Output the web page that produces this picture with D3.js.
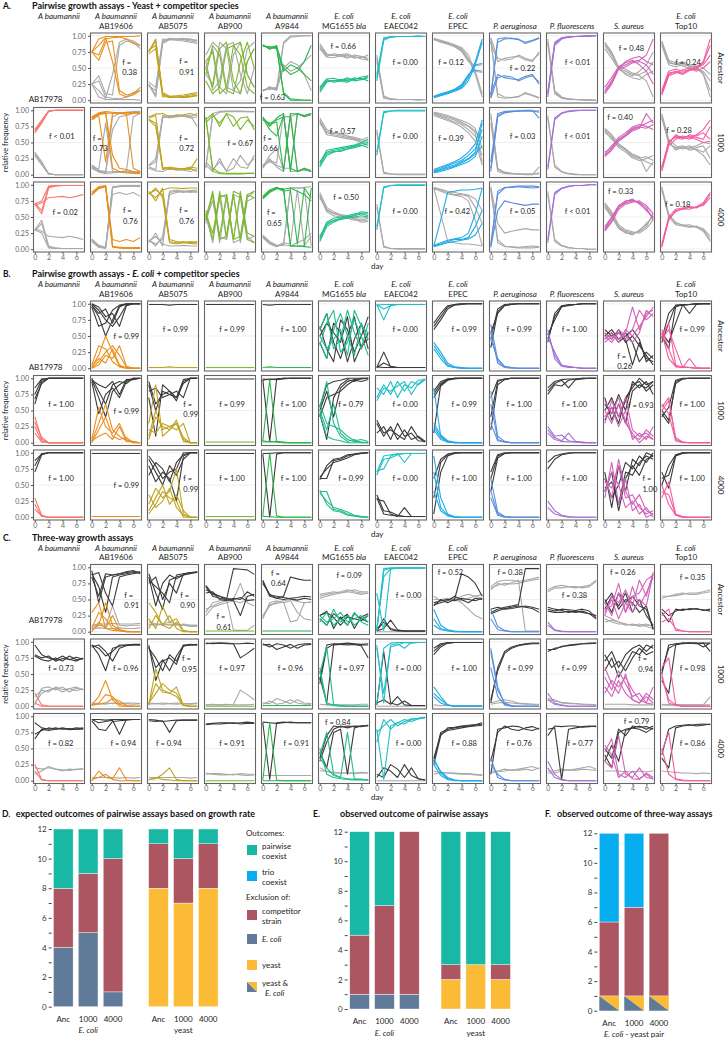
<!DOCTYPE html>
<html>
<head>
<meta charset="utf-8">
<script src="https://cdn.jsdelivr.net/npm/d3@7"></script>
<style>
  body { margin: 0; background: #fff; }
  text { font-family: Lato, "Open Sans", sans-serif; }
</style>
</head>
<body>
<div id="fig"></div>
<script>
// column headers
const species = ["A baumannii", "A baumannii", "A baumannii", "A baumannii", "A baumannii", "E. coli", "E. coli", "E. coli",
  "P. aeruginosa", "P. fluorescens", "S. aureus", "E. coli"];
const strains = ["AB17978", "AB19606", "AB5075", "AB900", "A9844", "MG1655", "EAEC042", "EPEC", "", "", "", "Top10"];
const rowLabels = ["Ancestor", "1000", "4000"];
const days = [0, 1, 2, 3, 4, 5, 6, 7];
const yTicks = [0, 0.25, 0.5, 0.75, 1];
const xTicks = [0, 2, 4, 6];

const compColors = ["#f8766d", "#e98f1c", "#bfa31f", "#7dba2c", "#2db64d", "#20bd8e", "#20bfc5", "#1faae6",
  "#5b8edc", "#a470d6", "#d262b9", "#f45b9f"];

// A: yeast + competitor, competitor frequency (%) per replicate, yeast is the rest
const yeastPair = [
  [null,
    [[75,95,99,99,99,99,99,100],[75,62,90,92,15,8,10,20],[75,85,97,60,10,5,8,15],[75,70,95,97,98,95,88,85]],
    [[75,92,10,5,5,6,8,10],[78,85,8,4,5,5,6,8],[72,80,5,6,7,8,10,12],[76,95,12,6,5,4,5,7]],
    [[50,20,80,90,30,10,60,80],[40,85,70,15,10,60,90,50],[60,75,10,20,85,90,40,20],[30,10,20,80,85,70,20,10]],
    [[85,82,84,50,40,45,60,85],[85,80,82,10,0,0,0,0],[84,83,80,45,55,50,40,30],[86,79,85,12,2,1,0,0]],
    [[15,30,30,32,30,35,32,35],[18,32,28,30,33,32,36,38],[12,28,31,29,28,33,34,30],[20,33,34,31,35,30,32,37]],
    [[35,95,98,99,99,99,99,99],[40,97,99,99,99,99,99,99],[30,93,98,99,99,99,100,99]],
    [[5,8,12,15,20,35,60,95],[4,7,10,14,18,30,55,90],[6,10,13,17,24,40,47,45],[5,9,11,16,22,38,55,57]],
    [[5,95,97,96,95,88,92,96],[8,90,95,96,94,90,93,97],[3,35,38,36,30,35,38,28],[10,40,35,33,32,37,40,25]],
    [[10,88,96,98,99,99,99,100],[5,85,95,98,99,99,100,100],[12,90,97,99,99,100,100,100]],
    [[15,30,50,55,60,62,70,95],[10,25,48,52,58,60,55,40],[20,35,52,58,62,55,45,25],[12,28,50,60,65,68,60,55]],
    [[10,40,45,42,48,50,60,95],[15,45,48,45,47,52,55,70],[8,38,42,47,50,45,50,60],[12,42,44,40,46,48,58,85]]],
  [[[65,80,99,100,100,100,100,100],[70,85,99,100,100,100,100,100],[68,82,98,100,100,100,100,100]],
    [[88,95,97,10,5,3,2,2],[85,93,95,96,95,94,96,95],[90,96,98,97,96,95,10,5],[86,92,20,95,96,97,96,97],[88,95,96,30,10,8,5,3]],
    [[88,92,10,8,10,9,8,25],[85,75,12,10,7,8,10,5],[90,94,95,90,92,93,95,92],[86,80,8,12,10,9,12,10]],
    [[85,95,75,95,90,70,85,75],[90,5,2,1,1,1,2,2],[88,10,3,2,2,2,2,2],[80,92,80,94,75,88,90,70]],
    [[90,75,88,95,5,95,90,93],[85,80,85,90,90,5,10,5],[88,70,60,92,10,5,8,5],[87,78,82,5,95,94,92,95]],
    [[15,35,38,40,42,45,48,50],[12,30,35,38,40,44,46,42],[18,38,40,42,44,46,50,55],[20,33,36,36,40,42,45,48]],
    [[30,96,99,99,99,99,99,99],[35,98,99,100,100,100,100,100]],
    [[5,8,12,15,20,25,35,80],[3,5,8,12,16,20,28,60],[6,10,14,18,22,30,40,70],[4,7,10,13,18,24,32,45],[8,12,16,20,26,35,48,85]],
    [[10,92,97,98,99,99,99,97],[20,95,98,99,99,100,100,88],[5,90,96,98,99,99,99,99]],
    [[8,85,95,98,99,100,100,100],[12,88,96,99,100,100,100,100]],
    [[30,40,55,62,72,75,80,85],[28,38,52,60,68,72,95,80],[35,42,58,65,74,78,75,70],[32,45,55,60,70,74,72,78]],
    [[8,50,60,58,55,62,70,85],[5,45,55,60,58,55,50,52],[10,52,58,55,62,60,65,55],[12,48,62,57,60,58,55,75]]],
  [[[70,75,98,99,99,99,99,99],[72,60,97,99,99,99,99,99],[68,72,80,81,82,80,82,85],[70,55,95,98,99,99,99,99]],
    [[85,95,98,5,2,2,2,2],[88,97,99,15,12,15,12,18],[86,96,97,4,3,2,2,3],[84,94,97,3,2,1,1,1]],
    [[90,75,95,12,10,12,10,12],[85,95,80,10,8,10,12,10],[88,80,92,95,95,94,95,95],[86,92,85,15,12,10,9,8]],
    [[60,15,90,20,85,15,80,90],[45,90,20,85,15,90,25,20],[55,25,80,85,15,20,85,80],[50,85,15,20,90,85,15,10]],
    [[80,90,95,93,95,90,85,75],[82,92,96,92,5,5,5,95],[78,88,94,94,5,5,4,3],[80,91,95,90,92,8,95,80]],
    [[15,40,45,48,50,52,55,55],[18,42,48,50,52,55,55,52],[20,38,44,46,48,50,52,50],[12,35,42,47,50,53,58,57]],
    [[35,97,99,99,99,99,99,99],[30,95,99,100,100,100,100,100]],
    [[5,45,88,90,92,92,93,95],[5,8,12,15,15,18,35,60],[6,10,14,16,18,25,55,95],[4,7,10,12,14,16,22,40]],
    [[5,85,95,97,98,98,98,97],[8,90,96,96,97,96,95,96],[3,60,75,72,70,68,70,70]],
    [[15,88,95,98,99,99,100,100],[10,85,94,97,99,99,100,100]],
    [[30,45,65,72,75,73,65,45],[35,50,68,75,76,72,60,50],[28,42,62,70,73,75,68,55],[32,48,66,74,78,70,62,48]],
    [[5,45,60,62,65,64,70,85],[8,50,62,64,66,65,68,80],[3,48,58,63,62,66,72,88]]]
];

// B: E. coli + competitor, competitor frequency (%), E. coli is the rest
const ecoliPair = [
  [null,
    [[2,20,50,25,3,1,0,0],[5,35,30,10,2,0,0,0],[0,10,25,35,20,2,0,0],[3,15,8,30,5,0,0,0],[0,5,20,15,35,3,0,0]],
    [[1,1,1,2,1,1,1,1]],
    [[1,1,1,1,1,1,1,1]],
    [[1,2,1,1,1,1,1,1]],
    [[40,15,60,85,50,20,70,45],[60,85,30,45,90,55,30,70],[35,70,90,25,40,75,50,20],[50,30,45,60,20,90,65,55]],
    [[99,75,98,99,99,99,99,99],[98,99,99,99,99,99,99,99],[99,92,97,99,99,99,99,99]],
    [[35,20,5,1,0,0,0,0],[40,25,8,2,1,0,0,0],[30,15,3,1,0,0,0,0]],
    [[68,12,2,1,0,0,0,0],[55,8,1,0,0,0,0,0],[45,15,3,1,0,0,0,0]],
    [[55,20,5,2,1,0,0,0],[48,25,4,3,1,0,0,0],[60,15,3,1,1,0,0,0]],
    [[45,55,40,60,50,65,80,95],[50,40,55,45,60,90,75,85],[40,50,45,55,95,60,85,90],[55,45,60,50,40,55,90,80]],
    [[60,30,2,1,1,0,0,0],[50,70,5,1,15,1,0,0],[55,15,3,2,1,0,0,0],[45,60,30,2,1,0,0,0]]],
  [[[40,5,0,0,0,0,0,0],[25,2,0,0,0,0,0,0],[15,1,0,0,0,0,0,0],[32,8,0,0,0,0,0,0]],
    [[2,30,60,20,10,3,2,0],[5,55,25,15,30,5,0,0],[0,20,40,10,5,8,0,0],[3,10,15,5,25,2,1,0]],
    [[30,90,10,20,35,5,0,0],[10,50,20,25,30,8,0,0],[20,15,30,25,20,30,0,0],[5,40,25,20,30,2,0,0]],
    [[1,1,1,1,1,1,1,1]],
    [[2,98,1,0,0,0,0,0],[1,2,1,0,0,0,0,0],[3,1,2,1,0,0,0,0]],
    [[55,95,30,10,2,5,0,0],[50,20,60,15,5,2,1,0],[45,10,5,3,0,0,0,0],[60,30,25,20,10,3,5,2]],
    [[70,90,75,95,80,95,90,98],[85,75,95,70,90,85,97,98],[65,85,80,88,95,75,92,99]],
    [[85,10,2,0,0,0,0,0],[25,8,1,0,0,0,0,0],[20,5,1,0,0,0,0,0],[30,12,3,1,0,0,0,0]],
    [[80,10,2,0,0,0,0,0],[60,5,1,0,0,0,0,0],[30,3,1,0,0,0,0,0]],
    [[20,8,3,15,2,1,0,0],[15,5,2,1,1,0,0,0],[25,10,12,3,1,0,0,0]],
    [[30,65,40,70,20,10,15,5],[50,30,60,35,10,5,20,10],[40,55,25,50,5,15,5,25],[65,45,70,30,15,0,10,5]],
    [[55,70,5,1,0,0,0,0],[60,45,3,0,0,0,0,0],[50,65,8,1,0,0,0,0]]],
  [[[30,3,0,0,0,0,0,0],[20,1,0,0,0,0,0,0],[12,2,0,0,0,0,0,0]],
    [[1,1,1,1,1,1,1,1]],
    [[20,45,30,40,75,5,0,0],[10,30,50,20,35,10,0,0],[35,15,25,45,15,3,0,0],[5,20,40,30,25,0,0,0]],
    [[1,1,1,1,1,1,1,1]],
    [[2,100,2,0,0,0,0,0],[1,1,0,0,0,0,0,0]],
    [[40,40,12,10,5,2,1,0],[42,20,10,8,3,2,0,0],[38,25,15,12,8,3,1,0]],
    [[70,95,97,98,99,99,99,99],[72,75,95,99,85,99,99,99],[65,90,92,97,99,99,99,99]],
    [[95,30,5,1,0,0,0,0],[70,15,3,0,0,0,0,0],[40,10,2,0,0,0,0,0]],
    [[60,8,1,0,0,0,0,0],[40,5,1,0,0,0,0,0],[30,3,0,0,0,0,0,0]],
    [[25,10,3,1,0,0,0,0],[15,5,2,0,0,0,0,0]],
    [[60,30,90,40,20,35,10,5],[40,70,50,15,25,5,15,0],[30,85,20,60,10,20,0,5],[55,45,80,30,35,15,5,10]],
    [[50,20,3,0,0,0,0,0],[30,55,5,1,0,0,0,0],[40,35,4,0,0,0,0,0]]]
];

// C: three-way, [competitor lines, yeast lines, E. coli lines] (%)
const trio = [
  [null,
    [[[30,45,5,2,1,0,0,0],[2,10,45,10,3,1,0,0],[0,15,5,25,3,0,0,0],[5,30,20,5,2,0,0,0]],
     [[10,12,12,13,12,12,12,13],[8,10,8,40,10,9,10,10],[5,6,5,5,6,5,5,6]],
     [[95,45,85,88,90,92,93,92],[90,70,30,85,88,90,92,93],[88,92,60,40,85,88,90,92],[85,55,90,88,90,93,95,90]]],
    [[[45,30,10,25,5,0,0,0],[20,5,40,15,20,2,0,0],[5,25,10,5,15,1,0,0]],
     [[10,12,10,12,10,12,10,10],[12,10,12,10,12,10,8,8],[15,12,12,15,12,10,10,10]],
     [[90,60,35,80,85,88,92,93],[75,85,50,75,60,90,92,92],[85,40,75,88,82,88,90,93],[80,70,60,45,88,90,91,92]]],
    [[[1,1,1,1,1,1,1,1]],
     [[30,45,48,50,2,2,2,10],[35,40,45,48,50,75,45,40],[25,38,42,45,48,45,50,48]],
     [[70,55,52,50,98,97,96,89],[65,60,55,50,48,25,55,58],[72,58,55,52,50,53,48,50],[60,62,50,48,52,50,62,55]]],
    [[[1,1,1,1,1,1,1,1]],
     [[20,45,48,45,48,30,20,18],[25,40,46,48,50,47,45,46],[22,42,44,46,15,18,45,46]],
     [[80,55,52,55,85,82,80,80],[78,57,55,53,51,49,52,50],[75,58,52,50,52,53,55,54]]],
    [[[20,10,35,15,25,10,20,25],[15,30,10,20,10,30,15,10],[25,15,20,30,15,20,25,15]],
     [[55,58,60,62,65,62,60,60],[58,60,62,60,63,65,62,62],[52,55,58,60,62,60,58,60]],
     [[25,32,5,23,10,28,20,15],[20,10,28,20,27,5,23,28],[25,30,22,10,23,20,17,25]]],
    [[[2,95,99,99,99,99,99,99],[60,2,97,99,99,99,99,99],[5,85,98,99,99,99,99,99],[1,98,99,99,99,99,99,99]],
     [[0,0,0,0,0,0,0,0]],
     [[2,15,5,2,1,1,1,1],[1,5,18,3,1,1,1,1],[2,20,3,1,1,1,1,1]]],
    [[[35,10,3,1,0,0,0,0],[20,5,2,0,0,0,0,0],[10,3,1,0,0,0,0,0]],
     [[50,50,52,48,48,52,55,58],[45,48,50,52,45,35,25,20],[55,48,50,50,55,58,55,52]],
     [[40,50,45,50,90,85,75,55],[45,48,50,48,52,50,48,52],[42,45,48,55,50,45,52,50]]],
    [[[35,8,2,0,0,0,0,0],[20,3,1,0,0,0,0,0]],
     [[70,78,80,80,78,80,82,85],[65,75,72,76,80,1,1,1],[68,72,75,74,75,78,80,82]],
     [[30,35,38,40,42,98,98,98],[35,38,35,36,38,40,38,35],[28,32,36,38,40,38,36,30]]],
    [[[15,3,1,0,0,0,0,0],[10,2,0,0,0,0,0,0]],
     [[65,70,72,70,70,68,70,78],[62,68,68,70,68,70,72,80]],
     [[35,32,35,34,33,35,32,22],[32,30,30,32,30,32,28,20],[38,35,33,30,32,30,28,25]]],
    [[[30,50,20,45,30,50,40,90],[45,25,60,30,70,40,60,85],[25,55,45,65,40,80,55,92],[35,40,75,30,55,60,80,88]],
     [[20,15,12,12,10,10,12,8],[15,18,15,10,12,8,10,10],[25,20,15,12,10,12,8,5]],
     [[50,30,60,45,55,40,35,5],[35,55,40,60,30,50,25,10],[45,60,35,50,45,30,40,3]]],
    [[[25,35,2,1,0,0,0,0],[15,20,5,1,0,0,0,0]],
     [[55,55,58,60,58,58,60,62],[52,55,56,58,60,60,62,65]],
     [[30,15,35,33,36,35,34,32],[35,25,32,35,34,36,33,35]]]],
  [[[[20,2,0,0,0,0,0,0],[5,0,0,0,0,0,0,0]],
     [[5,20,25,28,22,27,24,27],[2,28,30,25,30,22,28,26],[15,25,22,30,26,27,30,25]],
     [[95,80,75,72,78,72,76,73],[78,72,70,75,70,78,72,74],[80,75,78,70,74,73,70,75]]],
    [[[2,15,40,10,0,0,0,0],[1,5,18,15,3,0,0,0],[2,3,5,12,8,1,0,0]],
     [[3,4,5,4,5,4,3,4],[5,4,3,5,4,5,5,4]],
     [[95,80,55,90,93,95,95,95],[95,90,78,85,95,95,96,96],[92,95,85,70,90,94,95,95]]],
    [[[2,58,25,20,30,1,0,0],[5,20,35,25,20,2,0,0],[3,35,22,20,15,1,0,0]],
     [[3,4,5,4,3,4,4,5],[5,4,3,4,5,4,3,4]],
     [[95,40,70,75,65,95,95,95],[90,75,55,80,70,93,95,96],[92,60,72,55,78,94,96,95]]],
    [[[0,0,0,0,0,0,0,0]],
     [[2,3,2,2,3,25,18,10],[2,2,2,3,2,2,2,3]],
     [[98,97,98,97,97,75,82,90],[97,98,98,98,97,97,98,97]]],
    [[[1,1,1,1,1,1,1,1]],
     [[3,8,3,5,10,5,3,3],[5,4,12,8,4,10,5,4]],
     [[97,92,97,95,90,95,97,97],[95,96,88,92,96,90,95,96]]],
    [[[55,3,1,0,0,0,0,0],[50,93,2,1,0,0,0,0],[60,5,2,1,0,0,0,0]],
     [[3,2,2,2,2,2,3,3]],
     [[40,95,97,96,95,96,94,75],[45,5,95,96,97,96,95,95],[35,90,96,97,98,97,96,97]]],
    [[[95,5,95,97,90,99,99,99],[2,90,98,99,99,99,99,99],[90,20,92,95,99,98,99,99]],
     [[0,0,0,0,0,0,0,0]],
     [[2,85,5,2,8,1,1,1],[5,10,3,15,2,1,1,1]]],
    [[[30,15,2,0,0,0,0,0],[15,5,1,0,0,0,0,0],[20,10,2,0,0,0,0,0]],
     [[2,1,1,1,1,1,1,1]],
     [[85,95,98,99,99,99,99,99],[90,97,99,99,99,99,99,99],[80,92,98,99,99,99,99,99]]],
    [[[90,30,3,0,0,0,0,0],[85,25,5,1,0,0,0,0],[60,15,2,0,0,0,0,0]],
     [[5,8,10,8,5,4,3,3],[3,5,6,5,4,3,3,2]],
     [[5,60,85,92,95,97,98,98],[10,55,82,90,94,96,97,97]]],
    [[[20,5,2,0,0,0,0,0],[10,3,1,0,0,0,0,0]],
     [[10,8,6,5,4,3,2,2],[12,10,5,4,4,3,3,2]],
     [[85,90,92,95,96,97,98,98],[88,88,93,94,95,97,97,98]]],
    [[[30,15,40,20,10,5,15,5],[45,25,55,35,15,20,5,3],[20,40,30,45,25,10,5,30],[60,35,20,50,10,5,20,10]],
     [[3,3,3,3,2,2,2,2]],
     [[70,85,60,80,90,95,85,95],[55,75,45,65,85,80,95,90],[80,60,70,55,75,90,80,85]]],
    [[[50,5,1,0,0,0,0,0],[60,75,3,0,0,0,0,0],[45,10,2,0,0,0,0,0]],
     [[2,2,2,2,2,2,2,15],[3,2,2,2,2,2,2,2]],
     [[50,95,97,98,98,98,92,98],[40,20,95,98,98,97,98,85],[55,90,96,97,98,98,98,98]]]],
  [[[[25,2,0,0,0,0,0,0],[15,1,0,0,0,0,0,0]],
     [[10,15,22,18,17,16,18,18],[20,18,20,18,15,18,17,19]],
     [[90,82,80,82,80,81,80,80],[65,80,78,80,82,80,82,81],[72,78,82,80,81,79,80,82]]],
    [[[0,15,5,3,20,1,0,0],[2,5,10,2,0,0,0,0]],
     [[5,5,5,5,4,5,4,5]],
     [[95,90,92,94,72,95,95,95],[93,80,78,92,93,94,95,95],[95,95,94,95,95,95,95,95]]],
    [[[2,3,10,20,2,0,0,0],[1,5,2,1,0,0,0,0]],
     [[5,5,5,5,5,5,4,5]],
     [[93,92,93,75,93,94,94,94],[95,94,92,93,94,94,94,94]]],
    [[[0,0,0,0,0,0,0,0]],
     [[12,10,9,9,10,9,8,9],[10,11,11,10,9,11,10,10]],
     [[88,89,90,90,89,90,91,90],[87,88,88,89,90,88,89,89]]],
    [[[1,90,1,0,0,0,0,0],[0,0,0,0,0,0,0,0]],
     [[8,8,8,8,8,8,8,8]],
     [[90,2,90,91,90,90,90,90],[91,90,89,90,91,90,90,90]]],
    [[[40,75,10,5,3,2,2,1],[35,20,8,5,75,3,2,1],[50,10,5,3,2,1,1,1]],
     [[15,15,12,12,12,12,13,12],[20,14,13,12,12,11,12,12]],
     [[30,60,80,85,82,85,84,86],[45,20,75,80,10,82,85,85],[35,70,85,83,85,84,85,86]]],
    [[[80,2,85,90,95,92,96,98],[60,95,80,90,88,95,97,98],[75,85,95,85,92,96,97,99]],
     [[0,0,0,0,0,0,0,0]],
     [[5,20,15,5,25,8,3,1],[10,5,25,18,5,20,3,1]]],
    [[[35,12,3,1,0,0,0,0],[25,8,2,0,0,0,0,0],[30,15,5,1,0,0,0,0]],
     [[15,12,12,11,10,10,9,8],[10,13,12,12,11,11,10,9]],
     [[30,75,80,82,84,85,86,88],[25,70,82,83,85,86,87,90],[35,72,78,80,82,84,85,86]]],
    [[[35,5,1,0,0,0,0,0],[25,10,2,0,0,0,0,0]],
     [[15,15,18,16,18,20,22,18],[12,14,15,17,16,18,16,20]],
     [[10,80,82,85,84,80,78,82],[30,75,85,80,78,82,84,80]]],
    [[[30,10,2,0,0,0,0,0],[20,5,1,0,0,0,0,0]],
     [[15,15,18,16,18,20,22,18],[12,12,15,17,16,18,17,16]],
     [[70,85,84,85,85,83,84,85],[80,82,2,80,82,84,85,84]]],
    [[[45,65,10,5,15,3,10,2],[30,20,70,10,5,20,5,3],[55,40,5,15,3,2,12,5]],
     [[15,15,15,14,14,15,14,15]],
     [[40,20,75,80,82,85,80,85],[30,55,30,78,82,80,75,82],[50,35,80,70,85,83,84,80]]],
    [[[45,75,3,1,0,0,0,0],[50,10,2,0,0,0,0,0]],
     [[15,14,13,12,12,11,12,11]],
     [[40,80,85,86,87,85,86,88],[35,20,82,85,86,87,88,87]]]]
];

// f annotations: [text, day, frequency]; "|" splits into two lines
const fA = [
  [null, ["f =|0.38",4.4,0.59], ["f =|0.91",4.4,0.6], null, ["f = 0.63",1.4,0.04], ["f = 0.66",3.4,0.83], ["f = 0.00",4.1,0.59],
   ["f = 0.12",2.5,0.59], ["f = 0.22",4.6,0.49], ["f < 0.01",4.3,0.59], ["f = 0.48",3.85,0.81], ["f = 0.24",3.8,0.59]],
  [["f < 0.01",3.9,0.6], ["f =|0.73",0.15,0.57], ["f =|0.72",4.4,0.57], ["f = 0.67",5.0,0.49], ["f =|0.66",0.05,0.57], ["f = 0.57",3.3,0.68],
   ["f = 0.00",4.1,0.59], ["f = 0.39",2.5,0.57], ["f = 0.03",4.6,0.59], ["f < 0.01",4.3,0.59], ["f = 0.40",2.2,0.89], ["f = 0.28",2.5,0.69]],
  [["f = 0.02",4.4,0.57], ["f =|0.76",4.5,0.6], ["f =|0.76",4.4,0.6], null, ["f =|0.65",0.6,0.57], ["f = 0.50",3.8,0.81],
   ["f = 0.00",4.1,0.59], ["f = 0.42",3.4,0.59], ["f = 0.05",4.6,0.59], ["f < 0.01",4.3,0.59], ["f = 0.33",2.3,0.9], ["f = 0.18",2.3,0.69]]
];
const fB = [
  [null, ["f = 0.99",5.0,0.5], ["f = 0.99",3.85,0.61], ["f = 0.99",3.8,0.61], ["f = 1.00",4.45,0.61], null, ["f = 0.00",4.1,0.61],
   ["f = 0.99",4.4,0.61], ["f = 0.99",4.1,0.61], ["f = 1.00",3.85,0.61], ["f =|0.26",1.8,0.19], ["f = 0.99",4.4,0.61]],
  [["f = 1.00",3.8,0.6], ["f = 0.99",5.0,0.49], ["f =|0.99",5.0,0.6], ["f = 0.99",3.8,0.6], ["f = 1.00",4.45,0.6], ["f = 0.79",4.5,0.6],
   ["f = 0.00",4.1,0.6], ["f = 0.99",4.4,0.6], ["f = 1.00",4.1,0.6], ["f = 1.00",3.85,0.6], ["f = 0.93",5.2,0.58], ["f = 1.00",4.4,0.6]],
  [["f = 1.00",3.8,0.6], ["f = 0.99",5.0,0.5], ["f =|0.99",5.0,0.6], ["f = 1.00",3.8,0.6], ["f = 1.00",4.45,0.6], ["f = 0.99",4.5,0.6],
   ["f = 0.00",4.1,0.6], ["f = 1.00",4.4,0.6], ["f = 1.00",4.1,0.6], ["f = 1.00",3.85,0.6], ["f =|1.00",5.45,0.6], ["f = 1.00",4.4,0.6]]
];
const fC = [
  [null, ["f =|0.91",4.7,0.57], ["f =|0.90",4.55,0.57], ["f =|0.61",1.55,0.23], ["f =|0.64",1.2,0.91], ["f = 0.09",4.25,0.88],
   ["f = 0.00",4.6,0.56], ["f = 0.52",2.4,0.92], ["f = 0.38",2.8,0.92], ["f = 0.38",3.85,0.56], ["f = 0.26",2.6,0.92], ["f = 0.35",4.45,0.84]],
  [["f = 0.73",3.8,0.58], ["f = 0.96",4.9,0.58], ["f =|0.95",4.8,0.74], ["f = 0.97",3.8,0.58], ["f = 0.96",4.0,0.58], ["f = 0.97",4.6,0.58],
   ["f = 0.00",4.6,0.58], ["f = 1.00",4.4,0.58], ["f = 0.99",4.3,0.58], ["f = 0.99",3.85,0.58], ["f =|0.94",4.85,0.74], ["f = 0.98",4.45,0.58]],
  [["f = 0.82",3.75,0.58], ["f = 0.94",4.55,0.58], ["f = 0.94",2.9,0.58], ["f = 0.91",3.8,0.58], ["f = 0.91",4.85,0.58], ["f = 0.84",2.6,0.91],
   ["f = 0.00",4.6,0.58], ["f = 0.88",4.4,0.58], ["f = 0.76",4.1,0.58], ["f = 0.77",4.7,0.58], ["f = 0.79",4.6,0.92], ["f = 0.86",4.45,0.58]]
];

// bar charts (counts out of 12)
const barCats = ["Anc", "1000", "4000"];
const expEcoliExcl = [4, 5, 1], expEcoliComp = [4, 4, 9], expEcoliCoex = [4, 3, 2];
const expYeastExcl = [8, 7, 8], expYeastComp = [3, 3, 3], expYeastCoex = [1, 2, 1];
const obsEcoliExcl = [1, 1, 1], obsEcoliComp = [4, 6, 11], obsEcoliCoex = [7, 5, 0];
const obsYeastExcl = [2, 3, 2], obsYeastComp = [1, 0, 1], obsYeastCoex = [9, 9, 9];
const trioBoth = [1, 1, 1], trioComp = [5, 6, 11], trioCoex = [6, 5, 0];

const outColors = {ecoli: "#5f7b99", yeast: "#fbbb37", comp: "#ab5660", coex: "#18b8a5", trio: "#07aeef"};
const yeastGrey = "#a9a9a9", ecoliDark = "#3a3a3a";

const W = 728, H = 1039;
const PW = 51, PH = 70, ROWSTEP = 74.5, COLSTEP = 57, X0 = 33.5;

const svg = d3.select("#fig").append("svg")
    .attr("width", W)
    .attr("height", H);

const line = (x, y) => d3.line().x((d, i) => x(days[i])).y(d => y(d / 100));

const sections = [
  {label: "A.", top: 33, data: yeastPair, kind: "yeast", f: fA, strainDy: -1,
   title: [["Pairwise growth assays - Yeast + competitor species", false]]},
  {label: "B.", top: 301, data: ecoliPair, kind: "ecoli", f: fB, strainDy: -1,
   title: [["Pairwise growth assays - ", false], ["E. coli", true], [" + competitor species", false]]},
  {label: "C.", top: 564.5, data: trio, kind: "trio", f: fC, strainDy: -12,
   title: [["Three-way growth assays", false]]}
];

sections.forEach(sec => {
  const top = sec.top;
  // section title
  svg.append("text").attr("x", 3).attr("y", top - 24)
      .attr("font-size", 8.5).attr("font-weight", 700).attr("fill", "#111").text(sec.label);
  const tt = svg.append("text").attr("x", 32).attr("y", top - 24)
      .attr("font-size", 9).attr("font-weight", 700).attr("fill", "#111");
  sec.title.forEach(p => tt.append("tspan").attr("font-style", p[1] ? "italic" : "normal").text(p[0]));

  // column headers
  species.forEach((sp, c) => {
    const cx = X0 + c * COLSTEP + PW / 2;
    const twoLine = c > 0 && strains[c] !== "";
    const y1 = (c === 0 || twoLine) ? top - 14 : top - 4.5;
    svg.append("text").attr("x", cx).attr("y", y1).attr("text-anchor", "middle")
        .attr("font-size", 8).attr("font-style", "italic").attr("fill", "#222").text(sp);
    if (twoLine) {
      const t2 = svg.append("text").attr("x", cx).attr("y", top - 4.5).attr("text-anchor", "middle")
          .attr("font-size", 8).attr("fill", "#222");
      if (c === 5) {
        t2.append("tspan").text("MG1655 ");
        t2.append("tspan").attr("font-style", "italic").text("bla");
      } else {
        t2.text(strains[c]);
      }
    }
  });

  // strain label for the first column sits in the empty top-left slot
  svg.append("text").attr("x", 62.5).attr("y", top + PH + sec.strainDy)
      .attr("text-anchor", "end").attr("font-size", 8).attr("fill", "#222").text(strains[0]);

  rowLabels.forEach((rl, r) => {
    const y0 = top + r * ROWSTEP;
    svg.append("text")
        .attr("transform", `translate(718,${y0 + PH / 2}) rotate(90)`)
        .attr("text-anchor", "middle").attr("font-size", 8).attr("fill", "#222").text(rl);

    for (let c = 0; c < 12; c++) {
      const cell = sec.data[r][c];
      if (!cell) continue;
      const x0 = X0 + c * COLSTEP;
      const x = d3.scaleLinear().domain([0, 7]).range([x0 + 1.3, x0 + PW - 1.3]);
      const y = d3.scaleLinear().domain([0, 1]).range([y0 + PH - 2.8, y0 + 2.8]);
      const g = svg.append("g");

      g.append("rect").attr("x", x0).attr("y", y0).attr("width", PW).attr("height", PH).attr("fill", "#fff");
      g.selectAll(".grid").data([0, 0.5, 1]).join("line")
          .attr("x1", x0).attr("x2", x0 + PW)
          .attr("y1", d => y(d)).attr("y2", d => y(d))
          .attr("stroke", "#ebebeb").attr("stroke-width", 0.8);

      const ln = line(x, y);
      let groups;
      if (sec.kind === "trio") {
        groups = [[cell[1], yeastGrey], [cell[2], ecoliDark], [cell[0], compColors[c]]];
      } else {
        const other = cell.map(rep => rep.map(v => 100 - v));
        groups = [[other, sec.kind === "yeast" ? yeastGrey : ecoliDark], [cell, compColors[c]]];
      }
      groups.forEach(([reps, col]) => {
        g.append("g").selectAll("path").data(reps).join("path")
            .attr("d", ln).attr("fill", "none").attr("stroke", col)
            .attr("stroke-width", 1.1).attr("stroke-linejoin", "round");
      });

      g.append("rect").attr("x", x0).attr("y", y0).attr("width", PW).attr("height", PH)
          .attr("fill", "none").attr("stroke", "#666").attr("stroke-width", 1.1);

      // f annotation
      const fl = sec.f[r][c];
      if (fl) {
        const parts = fl[0].split("|");
        const ft = g.append("text").attr("font-size", 7.5).attr("fill", "#222")
            .attr("text-anchor", parts.length > 1 ? "start" : "middle");
        parts.forEach((p, i) => ft.append("tspan").attr("x", x(fl[1])).attr("y", y(fl[2]) + 2.6 + i * 10.5).text(p));
      }

      // y axis on the first panel of the row
      const firstCol = sec.data[r][0] ? 0 : 1;
      if (c === firstCol) {
        const ax = svg.append("g").attr("transform", `translate(${x0},0)`)
            .call(d3.axisLeft(y).tickValues(yTicks).tickFormat(d3.format(".2f")).tickSize(2.5).tickPadding(2));
        ax.select(".domain").remove();
        ax.selectAll("line").attr("stroke", "#555");
        ax.selectAll("text").attr("font-size", 7).attr("fill", "#666").attr("font-family", "Lato, sans-serif");
      }
      // x axis on the bottom row
      if (r === 2) {
        const ax = svg.append("g").attr("transform", `translate(0,${y0 + PH})`)
            .call(d3.axisBottom(x).tickValues(xTicks).tickFormat(d3.format("d")).tickSize(2).tickPadding(1));
        ax.select(".domain").remove();
        ax.selectAll("line").attr("stroke", "#555");
        ax.selectAll("text").attr("font-size", 7).attr("fill", "#666").attr("font-family", "Lato, sans-serif");
      }
    }
  });

  svg.append("text")
      .attr("transform", `translate(8,${top + ROWSTEP + PH / 2}) rotate(-90)`)
      .attr("text-anchor", "middle").attr("font-size", 7.5).attr("fill", "#222").text("relative frequency");
  svg.append("text").attr("x", 371).attr("y", top + 2 * ROWSTEP + PH + 16.5)
      .attr("font-size", 8).attr("fill", "#222").text("day");
});

// ---------- bar charts ----------
function barPanel(cfg) {
  const y = d3.scaleLinear().domain([0, 12]).range(cfg.yRange);
  const ax = svg.append("g").attr("transform", `translate(${cfg.axisX},0)`)
      .call(d3.axisLeft(y).tickValues(d3.range(0, 13)).tickFormat(d => d % 2 === 0 ? d : "").tickSize(3).tickPadding(2));
  ax.select(".domain").remove();
  ax.selectAll("line").attr("stroke", "#444");
  ax.selectAll("text").attr("font-size", 8).attr("fill", "#333").attr("font-family", "Lato, sans-serif");

  cfg.groups.forEach(grp => {
    const x = d3.scaleBand().domain(barCats).range(grp.range).paddingInner(0.21).paddingOuter(0.07);
    const rows = barCats.map((cat, i) => {
      const o = {cat};
      grp.keys.forEach(k => { o[k[0]] = k[1][i]; });
      return o;
    });
    const stack = d3.stack().keys(grp.keys.map(k => k[0]))(rows);
    stack.forEach(layer => {
      layer.forEach(seg => {
        if (seg[1] - seg[0] <= 0) return;
        const bx = x(seg.data.cat), bw = x.bandwidth();
        const yt = y(seg[1]), yb = y(seg[0]);
        if (layer.key === "both") {
          svg.append("polygon").attr("points", `${bx},${yt} ${bx + bw},${yt} ${bx + bw},${yb}`)
              .attr("fill", outColors.yeast);
          svg.append("polygon").attr("points", `${bx},${yt} ${bx + bw},${yb} ${bx},${yb}`)
              .attr("fill", outColors.ecoli);
        } else {
          svg.append("rect").attr("x", bx).attr("y", yt).attr("width", bw).attr("height", yb - yt)
              .attr("fill", outColors[layer.key]).attr("stroke", "#fff").attr("stroke-width", 0.4);
        }
      });
    });
    barCats.forEach(cat => {
      svg.append("text").attr("x", x(cat) + x.bandwidth() / 2).attr("y", cfg.yRange[0] + 15)
          .attr("text-anchor", "middle").attr("font-size", 8).attr("fill", "#222").text(cat);
    });
    const gl = svg.append("text").attr("x", (grp.range[0] + grp.range[1]) / 2).attr("y", cfg.yRange[0] + 26.5)
        .attr("text-anchor", "middle").attr("font-size", 8).attr("fill", "#222");
    grp.label.forEach(p => gl.append("tspan").attr("font-style", p[1] ? "italic" : "normal").text(p[0]));
  });

  svg.append("text").attr("x", cfg.letterX).attr("y", 816.5)
      .attr("font-size", 8.5).attr("font-weight", 700).attr("fill", "#111").text(cfg.letter);
  svg.append("text").attr("x", cfg.titleX).attr("y", 816.5)
      .attr("font-size", 9).attr("font-weight", 700).attr("fill", "#111").text(cfg.title);
}

barPanel({
  letter: "D.", letterX: 2, titleX: 15.7, title: "expected outcomes of pairwise assays based on growth rate",
  yRange: [1006.7, 829], axisX: 51.7,
  groups: [
    {range: [51.7, 124.6], label: [["E. coli", true]],
     keys: [["ecoli", expEcoliExcl], ["comp", expEcoliComp], ["coex", expEcoliCoex]]},
    {range: [146.9, 219.8], label: [["yeast", false]],
     keys: [["yeast", expYeastExcl], ["comp", expYeastComp], ["coex", expYeastCoex]]}
  ]
});
barPanel({
  letter: "E.", letterX: 313, titleX: 340, title: "observed outcome of pairwise assays",
  yRange: [1009, 831.7], axisX: 347.7,
  groups: [
    {range: [348, 420.9], label: [["E. coli", true]],
     keys: [["ecoli", obsEcoliExcl], ["comp", obsEcoliComp], ["coex", obsEcoliCoex]]},
    {range: [439.3, 512.2], label: [["yeast", false]],
     keys: [["yeast", obsYeastExcl], ["comp", obsYeastComp], ["coex", obsYeastCoex]]}
  ]
});
barPanel({
  letter: "F.", letterX: 545, titleX: 557, title: "observed outcome of three-way assays",
  yRange: [1010.7, 833.3], axisX: 597.3,
  groups: [
    {range: [597.6, 670.5], label: [["E. coli", true], [" - yeast pair", false]],
     keys: [["both", trioBoth], ["comp", trioComp], ["trio", trioCoex]]}
  ]
});

// legend
const legend = svg.append("g").attr("font-size", 8).attr("fill", "#222");
legend.append("text").attr("x", 246).attr("y", 836).attr("fill", "#222").text("Outcomes:");
legend.append("text").attr("x", 246).attr("y", 899.5).attr("fill", "#222").text("Exclusion of:");
const legendItems = [
  {key: "coex", top: 845, lines: [["pairwise", false], ["coexist", false]]},
  {key: "trio", top: 871, lines: [["trio", false], ["coexist", false]]},
  {key: "comp", top: 910, lines: [["competitor", false], ["strain", false]]},
  {key: "ecoli", top: 934, lines: [["E. coli", true]]},
  {key: "yeast", top: 960, lines: [["yeast", false]]},
  {key: "both", top: 982, lines: [["yeast &", false], ["E. coli", true]]}
];
legendItems.forEach(it => {
  if (it.key === "both") {
    legend.append("polygon").attr("points", `247,${it.top} 257,${it.top} 257,${it.top + 10}`).attr("fill", outColors.yeast);
    legend.append("polygon").attr("points", `247,${it.top} 257,${it.top + 10} 247,${it.top + 10}`).attr("fill", outColors.ecoli);
  } else {
    legend.append("rect").attr("x", 247).attr("y", it.top).attr("width", 10).attr("height", 10).attr("fill", outColors[it.key]);
  }
  const n = it.lines.length;
  it.lines.forEach((l, i) => {
    const yy = n === 1 ? it.top + 8 : it.top + 3.5 + i * 10;
    legend.append("text").attr("x", it.key === "both" && i === 1 ? 265 : 262).attr("y", yy)
        .attr("font-style", l[1] ? "italic" : "normal").attr("fill", "#222").text(l[0]);
  });
});
</script>
</body>
</html>
